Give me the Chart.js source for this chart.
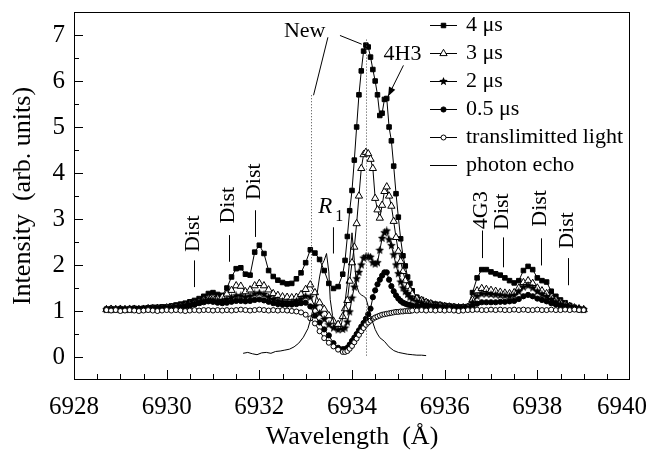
<!DOCTYPE html>
<html>
<head>
<meta charset="utf-8">
<script src="https://cdn.jsdelivr.net/npm/chart.js@4.4.0/dist/chart.umd.min.js"></script>
<style>
    html, body { margin: 0; padding: 0; background: #fff; }
    #wrap { width: 648px; height: 454px; }
</style>
</head>
<body>
<div id="wrap"><canvas id="chart"></canvas></div>
<script>
// Wavelength grid (Å) shared by the four delayed spectra and the transmitted light
const wavelength = [
    6928.7, 6928.8, 6928.9,
    6929.0, 6929.1, 6929.2, 6929.3, 6929.4, 6929.5, 6929.6, 6929.7, 6929.8, 6929.9,
    6930.0, 6930.1, 6930.2, 6930.3, 6930.4, 6930.5, 6930.6, 6930.7, 6930.8, 6930.9,
    6931.0, 6931.1, 6931.2, 6931.3, 6931.4, 6931.5, 6931.6, 6931.7, 6931.8, 6931.9,
    6932.0, 6932.1, 6932.2, 6932.3, 6932.4, 6932.5, 6932.6, 6932.7, 6932.8, 6932.9,
    6933.0, 6933.1, 6933.2, 6933.3, 6933.4, 6933.5, 6933.6, 6933.7, 6933.8,
    6933.85, 6933.9, 6933.95, 6934.0, 6934.05, 6934.1, 6934.15, 6934.2, 6934.25, 6934.3,
    6934.35, 6934.4, 6934.45, 6934.5, 6934.55, 6934.6, 6934.65, 6934.7, 6934.75, 6934.8,
    6934.85, 6934.9, 6934.95, 6935.0, 6935.05, 6935.1, 6935.15, 6935.2, 6935.25, 6935.3,
    6935.4, 6935.5, 6935.6, 6935.7, 6935.8, 6935.9,
    6936.0, 6936.1, 6936.2, 6936.3, 6936.4, 6936.5, 6936.6, 6936.7, 6936.8, 6936.9,
    6937.0, 6937.1, 6937.2, 6937.3, 6937.4, 6937.5, 6937.6, 6937.7, 6937.8, 6937.9,
    6938.0, 6938.1, 6938.2, 6938.3, 6938.4, 6938.5, 6938.6, 6938.7, 6938.8, 6938.9,
    6939.0
];

const intensity4us = [
    1.04, 1.05, 1.04,
    1.05, 1.04, 1.05, 1.06, 1.05, 1.06, 1.07, 1.08, 1.08, 1.09,
    1.09, 1.11, 1.13, 1.15, 1.17, 1.20, 1.23, 1.27, 1.32, 1.38,
    1.40, 1.36, 1.34, 1.50, 1.74, 1.92, 1.94, 1.80, 1.78, 2.28,
    2.43, 2.25, 1.88, 1.75, 1.67, 1.62, 1.59, 1.60, 1.70, 1.83,
    2.05, 2.33, 2.26, 2.12, 1.88, 1.60, 1.49, 1.53, 1.80,
    2.10, 2.62, 3.18, 3.62, 4.28, 5.00, 5.70, 6.22, 6.65, 6.78,
    6.74, 6.52, 6.25, 6.00, 5.70, 5.25, 5.30, 5.60, 5.62, 5.00,
    4.70, 4.15, 3.55, 3.04, 2.57, 2.20, 1.98, 1.74, 1.60, 1.44,
    1.30, 1.25, 1.20, 1.17, 1.15, 1.14,
    1.12, 1.11, 1.10, 1.09, 1.09, 1.10, 1.40, 1.72, 1.90, 1.90,
    1.85, 1.81, 1.78, 1.72, 1.66, 1.61, 1.66, 1.88, 1.97, 1.90,
    1.72, 1.66, 1.63, 1.43, 1.32, 1.24, 1.18, 1.12, 1.08, 1.05,
    1.03
];

const intensity3us = [
    1.03, 1.04, 1.03,
    1.04, 1.03, 1.04, 1.04, 1.03, 1.04, 1.05, 1.05, 1.06, 1.06,
    1.07, 1.08, 1.09, 1.10, 1.12, 1.14, 1.17, 1.20, 1.24, 1.27,
    1.28, 1.27, 1.30, 1.37, 1.45, 1.55, 1.54, 1.42, 1.46, 1.55,
    1.60, 1.55, 1.46, 1.38, 1.34, 1.31, 1.30, 1.29, 1.30, 1.36,
    1.47, 1.57, 1.40, 1.18, 1.04, 0.90, 0.78, 0.71, 0.88,
    1.05, 1.23, 1.65, 2.05, 2.39, 2.90, 3.50, 4.10, 4.40, 4.45,
    4.42, 4.30, 4.10, 3.45, 3.20, 3.02, 3.30, 3.60, 3.70, 3.50,
    3.28, 2.95, 2.60, 2.30, 2.08, 1.86, 1.66, 1.53, 1.45, 1.37,
    1.27, 1.23, 1.19, 1.16, 1.13, 1.12,
    1.10, 1.09, 1.08, 1.07, 1.07, 1.08, 1.24, 1.44, 1.49, 1.47,
    1.45, 1.43, 1.41, 1.39, 1.38, 1.40, 1.50, 1.62, 1.66, 1.60,
    1.50, 1.44, 1.38, 1.30, 1.24, 1.18, 1.14, 1.10, 1.07, 1.05,
    1.03
];

const intensity2us = [
    1.03, 1.03, 1.04,
    1.03, 1.04, 1.03, 1.04, 1.04, 1.04, 1.05, 1.05, 1.05, 1.06,
    1.06, 1.07, 1.08, 1.09, 1.11, 1.13, 1.16, 1.19, 1.22, 1.24,
    1.24, 1.22, 1.22, 1.25, 1.29, 1.33, 1.33, 1.30, 1.32, 1.37,
    1.39, 1.36, 1.30, 1.25, 1.22, 1.20, 1.19, 1.19, 1.21, 1.26,
    1.32, 1.30, 1.10, 0.95, 0.82, 0.70, 0.63, 0.59, 0.60,
    0.63, 0.76, 0.98, 1.28, 1.52, 1.70, 1.84, 2.00, 2.15, 2.18,
    2.18, 2.17, 2.05, 2.02, 2.05, 2.32, 2.58, 2.70, 2.74, 2.55,
    2.42, 2.22, 2.00, 1.81, 1.63, 1.50, 1.42, 1.36, 1.30, 1.26,
    1.21, 1.18, 1.15, 1.13, 1.12, 1.10,
    1.09, 1.08, 1.08, 1.07, 1.07, 1.07, 1.18, 1.32, 1.37, 1.37,
    1.36, 1.35, 1.34, 1.33, 1.32, 1.34, 1.42, 1.52, 1.55, 1.50,
    1.42, 1.36, 1.31, 1.25, 1.20, 1.15, 1.12, 1.09, 1.06, 1.04,
    1.03
];

const intensity05us = [
    1.03, 1.02, 1.03,
    1.03, 1.02, 1.03, 1.03, 1.03, 1.04, 1.04, 1.04, 1.05, 1.05,
    1.05, 1.06, 1.07, 1.08, 1.10, 1.12, 1.14, 1.17, 1.19, 1.21,
    1.20, 1.18, 1.17, 1.18, 1.20, 1.22, 1.22, 1.21, 1.22, 1.24,
    1.25, 1.23, 1.20, 1.17, 1.15, 1.14, 1.14, 1.14, 1.15, 1.17,
    1.18, 1.10, 0.90, 0.75, 0.60, 0.47, 0.30, 0.20, 0.17,
    0.17, 0.20, 0.27, 0.35, 0.42, 0.50, 0.58, 0.66, 0.74, 0.83,
    0.93, 1.05, 1.30, 1.45, 1.58, 1.68, 1.77, 1.84, 1.84, 1.68,
    1.54, 1.43, 1.34, 1.27, 1.22, 1.18, 1.16, 1.14, 1.13, 1.12,
    1.11, 1.10, 1.09, 1.08, 1.08, 1.07,
    1.07, 1.06, 1.06, 1.06, 1.05, 1.05, 1.10, 1.16, 1.19, 1.19,
    1.19, 1.19, 1.20, 1.20, 1.21, 1.22, 1.26, 1.32, 1.35, 1.32,
    1.27, 1.24, 1.21, 1.17, 1.14, 1.11, 1.09, 1.07, 1.05, 1.04,
    1.03
];

const intensityTransmitted = [
    1.02, 1.01, 1.02,
    1.00, 1.01, 1.02, 1.01, 1.00, 1.01, 1.02, 1.01, 1.00, 1.01,
    1.02, 1.01, 1.02, 1.01, 1.00, 1.01, 1.02, 1.01, 1.02, 1.02,
    1.01, 1.02, 1.01, 1.02, 1.01, 1.02, 1.03, 1.02, 1.01, 1.02,
    1.03, 1.02, 1.01, 1.02, 1.01, 1.02, 1.01, 1.00, 0.99, 0.97,
    0.92, 0.84, 0.73, 0.56, 0.41, 0.31, 0.23, 0.16, 0.11,
    0.11, 0.13, 0.18, 0.24, 0.32, 0.40, 0.48, 0.56, 0.63, 0.70,
    0.75, 0.79, 0.83, 0.86, 0.88, 0.90, 0.92, 0.93, 0.94, 0.95,
    0.96, 0.97, 0.98, 0.98, 0.99, 0.99, 1.00, 1.00, 1.00, 1.01,
    1.01, 1.02, 1.01, 1.02, 1.01, 1.02,
    1.01, 1.02, 1.01, 1.00, 1.01, 1.02, 1.02, 1.03, 1.02, 1.02,
    1.03, 1.02, 1.03, 1.02, 1.02, 1.03, 1.02, 1.03, 1.02, 1.02,
    1.03, 1.02, 1.02, 1.03, 1.02, 1.02, 1.03, 1.02, 1.03, 1.02,
    1.02
];

// Photon echo trace has its own sampling
const echoWavelength = [
    6931.65, 6931.75, 6931.85, 6931.95, 6932.05, 6932.15, 6932.25, 6932.35, 6932.45, 6932.55,
    6932.65, 6932.75, 6932.85, 6932.95, 6933.05, 6933.1, 6933.15, 6933.2, 6933.25, 6933.3,
    6933.35, 6933.4, 6933.45, 6933.5, 6933.53, 6933.58, 6933.63, 6933.7, 6933.75, 6933.8,
    6933.85, 6933.9, 6933.95, 6934.0, 6934.05, 6934.1, 6934.15, 6934.2, 6934.25, 6934.3,
    6934.35, 6934.4, 6934.45, 6934.5, 6934.55, 6934.6, 6934.7, 6934.8, 6934.9, 6935.0,
    6935.1, 6935.2, 6935.3, 6935.4, 6935.5, 6935.6
];
const echoIntensity = [
    0.08, 0.10, 0.07, 0.05, 0.09, 0.10, 0.08, 0.12, 0.13, 0.15,
    0.17, 0.22, 0.30, 0.43, 0.62, 0.80, 1.00, 1.16, 1.40, 1.74,
    2.00, 2.10, 2.25, 1.85, 1.25, 0.90, 0.62, 0.55, 0.62, 0.85,
    1.20, 1.60, 2.10, 2.70, 2.10, 1.55, 1.40, 1.35, 1.32, 1.28,
    1.10, 0.90, 0.75, 0.60, 0.50, 0.42, 0.34, 0.22, 0.14, 0.10,
    0.08, 0.06, 0.05, 0.04, 0.04, 0.03
];

const seriesLabels = ['4 μs', '3 μs', '2 μs', '0.5 μs', 'translimitted light', 'photon echo'];
const xTicks = [6928, 6930, 6932, 6934, 6936, 6938, 6940];
const yTicks = [0, 1, 2, 3, 4, 5, 6, 7];

// Text annotations placed in data coordinates
const rotatedLabels = [
    { text: 'Dist', x: 6930.70, y: 2.68, lineX: 6930.59, lineY: [1.52, 2.10] },
    { text: 'Dist', x: 6931.45, y: 3.30, lineX: 6931.35, lineY: [2.07, 2.65] },
    { text: 'Dist', x: 6932.02, y: 3.81, lineX: 6931.91, lineY: [2.61, 3.19] },
    { text: '4G3', x: 6936.91, y: 3.19, lineX: 6936.81, lineY: [2.15, 2.75] },
    { text: 'Dist', x: 6937.37, y: 3.16, lineX: 6937.26, lineY: [1.95, 2.60] },
    { text: 'Dist', x: 6938.19, y: 3.23, lineX: 6938.08, lineY: [1.99, 2.58] },
    { text: 'Dist', x: 6938.77, y: 2.75, lineX: 6938.66, lineY: [1.56, 2.15] }
];
const dottedMarkers = [
    { x: 6933.12, from: 1.2, to: 5.69 },
    { x: 6934.31, from: 0.0, to: 6.9 }
];
const leaderLines = [
    { from: [6933.48, 6.95], to: [6933.17, 5.69] },
    { from: [6933.74, 6.99], to: [6934.21, 6.80] },
    { from: [6933.60, 2.25], to: [6933.60, 2.82] }
];

const SERIF = '"Liberation Serif", "Times New Roman", serif';

function makeStar(size) {
    const c = document.createElement('canvas');
    c.width = size;
    c.height = size;
    const g = c.getContext('2d');
    const R = size / 2, r = R * 0.45;
    g.beginPath();
    for (let i = 0; i < 10; i++) {
        const a = -Math.PI / 2 + i * Math.PI / 5;
        const rr = i % 2 ? r : R;
        g.lineTo(R + rr * Math.cos(a), R + rr * Math.sin(a));
    }
    g.closePath();
    g.fillStyle = '#000';
    g.fill();
    return c;
}

const toPoints = (xs, ys) => xs.map((x, i) => ({ x, y: ys[i] }));

const baseSeries = {
    borderColor: '#000',
    borderWidth: 1,
    tension: 0,
    pointBorderColor: '#000',
    pointBorderWidth: 1
};

const datasets = [
    { ...baseSeries, label: seriesLabels[0], data: toPoints(wavelength, intensity4us),
      pointStyle: 'rect', pointRadius: 3.2, pointBackgroundColor: '#000', order: 5 },
    { ...baseSeries, label: seriesLabels[1], data: toPoints(wavelength, intensity3us),
      pointStyle: 'triangle', pointRadius: 4.2, pointBackgroundColor: '#fff', order: 4 },
    { ...baseSeries, label: seriesLabels[2], data: toPoints(wavelength, intensity2us),
      pointStyle: makeStar(9), pointRadius: 4, pointBackgroundColor: '#000', pointBorderWidth: 0, order: 3 },
    { ...baseSeries, label: seriesLabels[3], data: toPoints(wavelength, intensity05us),
      pointStyle: 'circle', pointRadius: 2.6, pointBackgroundColor: '#000', order: 2 },
    { ...baseSeries, label: seriesLabels[4], data: toPoints(wavelength, intensityTransmitted),
      pointStyle: 'circle', pointRadius: 2.5, pointBackgroundColor: '#fff', order: 1 },
    { ...baseSeries, label: seriesLabels[5], data: toPoints(echoWavelength, echoIntensity),
      pointRadius: 0, order: 0 }
];

/**
 * Frame, inward ticks, x tick labels, legend and text annotations
 */
const decorations = {
    id: 'decorations',
    afterDraw(chart) {
        const { ctx, chartArea: a, scales: { x, y } } = chart;
        const px = v => x.getPixelForValue(v);
        const py = v => y.getPixelForValue(v);
        ctx.save();
        ctx.strokeStyle = '#000';
        ctx.fillStyle = '#000';
        ctx.lineWidth = 1;

        // frame
        ctx.strokeRect(a.left + 0.5, a.top + 0.5, a.right - a.left - 1, a.bottom - a.top - 1);

        // ticks pointing inwards
        ctx.beginPath();
        for (let v = x.min + 0.5; v < x.max; v += 0.5) {
            const len = xTicks.includes(v) ? 10 : 6;
            const xx = Math.round(px(v)) + 0.5;
            ctx.moveTo(xx, a.bottom);
            ctx.lineTo(xx, a.bottom - len);
        }
        for (let v = y.min + 0.5; v < y.max; v += 0.5) {
            const len = yTicks.includes(v) ? 9 : 5;
            const yy = Math.round(py(v)) + 0.5;
            ctx.moveTo(a.left, yy);
            ctx.lineTo(a.left + len, yy);
        }
        ctx.stroke();

        // x tick labels, kept inside the canvas
        ctx.font = '25px ' + SERIF;
        ctx.textAlign = 'center';
        ctx.textBaseline = 'alphabetic';
        xTicks.forEach(v => {
            const label = String(v);
            const half = ctx.measureText(label).width / 2;
            const cx = Math.min(Math.max(px(v), half + 1), chart.width - half - 1);
            ctx.fillText(label, cx, a.bottom + 34);
        });

        // legend
        const legendLine = [a.right - 200, a.right - 173];
        const legendText = a.right - 164;
        ctx.font = '22px ' + SERIF;
        ctx.textAlign = 'left';
        ctx.textBaseline = 'middle';
        chart.data.datasets.forEach((ds, i) => {
            const yy = a.top + 13 + i * 28;
            ctx.strokeStyle = '#000';
            ctx.lineWidth = 1;
            ctx.beginPath();
            ctx.moveTo(legendLine[0], yy + 0.5);
            ctx.lineTo(legendLine[1], yy + 0.5);
            ctx.stroke();
            if (ds.pointRadius > 0) {
                ctx.fillStyle = ds.pointBackgroundColor;
                ctx.strokeStyle = ds.pointBorderColor;
                ctx.lineWidth = ds.pointBorderWidth;
                Chart.helpers.drawPoint(ctx, {
                    pointStyle: ds.pointStyle,
                    radius: ds.pointRadius,
                    borderWidth: ds.pointBorderWidth,
                    rotation: 0
                }, (legendLine[0] + legendLine[1]) / 2, yy + 0.5);
            }
            ctx.fillStyle = '#000';
            ctx.fillText(ds.label, legendText, yy);
        });

        // dotted reference lines
        ctx.strokeStyle = '#444';
        ctx.lineWidth = 1;
        ctx.setLineDash([1, 2]);
        ctx.beginPath();
        dottedMarkers.forEach(m => {
            const xx = Math.round(px(m.x)) + 0.5;
            ctx.moveTo(xx, py(m.to));
            ctx.lineTo(xx, py(m.from));
        });
        ctx.stroke();
        ctx.setLineDash([]);

        // rotated labels with their short markers
        ctx.strokeStyle = '#000';
        ctx.fillStyle = '#000';
        ctx.font = '22px ' + SERIF;
        rotatedLabels.forEach(l => {
            const lx = Math.round(px(l.lineX)) + 0.5;
            ctx.beginPath();
            ctx.moveTo(lx, py(l.lineY[0]));
            ctx.lineTo(lx, py(l.lineY[1]));
            ctx.stroke();
            ctx.save();
            ctx.translate(px(l.x), py(l.y));
            ctx.rotate(-Math.PI / 2);
            ctx.textAlign = 'center';
            ctx.textBaseline = 'alphabetic';
            ctx.fillText(l.text, 0, 0);
            ctx.restore();
        });

        // leader lines
        ctx.beginPath();
        leaderLines.forEach(l => {
            ctx.moveTo(px(l.from[0]), py(l.from[1]));
            ctx.lineTo(px(l.to[0]), py(l.to[1]));
        });
        ctx.stroke();

        // "New"
        ctx.textAlign = 'center';
        ctx.textBaseline = 'alphabetic';
        ctx.fillText('New', px(6932.98), py(6.95));

        // "4H3" with arrow
        ctx.fillText('4H3', px(6935.09), py(6.45));
        const x0 = px(6935.11), y0 = py(6.34), x1 = px(6934.78), y1 = py(5.67);
        ctx.beginPath();
        ctx.moveTo(x0, y0);
        ctx.lineTo(x1, y1);
        ctx.stroke();
        const ang = Math.atan2(y1 - y0, x1 - x0);
        ctx.beginPath();
        ctx.moveTo(x1, y1);
        ctx.lineTo(x1 - 9 * Math.cos(ang) + 3.5 * Math.sin(ang), y1 - 9 * Math.sin(ang) - 3.5 * Math.cos(ang));
        ctx.lineTo(x1 - 9 * Math.cos(ang) - 3.5 * Math.sin(ang), y1 - 9 * Math.sin(ang) + 3.5 * Math.cos(ang));
        ctx.closePath();
        ctx.fill();

        // R1
        ctx.textAlign = 'left';
        ctx.font = 'italic 23px ' + SERIF;
        const rx = px(6933.27), ry = py(3.12);
        ctx.fillText('R', rx, ry);
        const rw = ctx.measureText('R').width;
        ctx.font = '16px ' + SERIF;
        ctx.fillText('1', rx + rw + 3, ry + 8);

        ctx.restore();
    }
};

new Chart(document.getElementById('chart'), {
    type: 'line',
    data: { datasets },
    options: {
        responsive: true,
        maintainAspectRatio: false,
        animation: false,
        devicePixelRatio: 1,
        events: [],
        layout: { padding: { left: 0, right: 18, top: 12, bottom: 0 } },
        plugins: {
            legend: { display: false },
            tooltip: { enabled: false }
        },
        scales: {
            x: {
                type: 'linear',
                min: 6928,
                max: 6940,
                grid: { display: false, drawTicks: false },
                border: { display: false },
                ticks: { display: false },
                afterBuildTicks: scale => { scale.ticks = xTicks.map(v => ({ value: v })); },
                afterFit: scale => {
                    scale.height = 74;
                    scale.paddingLeft = 0;
                    scale.paddingRight = 0;
                },
                title: {
                    display: true,
                    text: 'Wavelength  (Å)',
                    color: '#000',
                    font: { family: SERIF, size: 26 },
                    padding: { top: 0, bottom: 1 }
                }
            },
            y: {
                type: 'linear',
                min: -0.5,
                max: 7.5,
                grid: { display: false, drawTicks: false },
                border: { display: false },
                ticks: {
                    color: '#000',
                    font: { family: SERIF, size: 25 },
                    padding: 9,
                    callback: value => String(value)
                },
                afterBuildTicks: scale => { scale.ticks = yTicks.map(v => ({ value: v })); },
                afterFit: scale => {
                    scale.width = 74;
                    scale.paddingTop = 0;
                    scale.paddingBottom = 0;
                },
                title: {
                    display: true,
                    text: 'Intensity  (arb. units)',
                    color: '#000',
                    font: { family: SERIF, size: 26 },
                    padding: { top: 8, bottom: 0 }
                }
            }
        }
    },
    plugins: [decorations]
});
</script>
</body>
</html>
